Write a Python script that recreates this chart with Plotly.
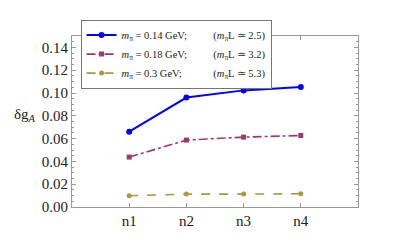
import plotly.graph_objects as go

categories = ["n1", "n2", "n3", "n4"]
x_pos = [1, 2, 3, 4]
dg_014 = [0.0661, 0.0960, 0.1023, 0.1053]
dg_018 = [0.0438, 0.0587, 0.0613, 0.0627]
dg_030 = [0.0099, 0.0113, 0.0113, 0.0116]
names = [
    "<i>m</i><sub>π</sub> = 0.14 GeV;          (<i>m</i><sub>π</sub>L ≃ 2.5)",
    "<i>m</i><sub>π</sub> = 0.18 GeV;          (<i>m</i><sub>π</sub>L ≃ 3.2)",
    "<i>m</i><sub>π</sub> = 0.3 GeV;            (<i>m</i><sub>π</sub>L ≃ 5.3)",
]

font = "Liberation Serif"
fig = go.Figure()
fig.add_trace(go.Scatter(x=x_pos, y=dg_014, name=names[0], mode="lines+markers",
                         line=dict(color="#0000FF", width=2),
                         marker=dict(symbol="circle", size=6, color="#0000FF")))
fig.add_trace(go.Scatter(x=x_pos, y=dg_018, name=names[1], mode="lines+markers",
                         line=dict(color="#9B3A6E", width=1.6, dash="dashdot"),
                         marker=dict(symbol="square", size=5, color="#9B3A6E")))
fig.add_trace(go.Scatter(x=x_pos, y=dg_030, name=names[2], mode="lines+markers",
                         line=dict(color="#A8983E", width=1.6, dash="dash"),
                         marker=dict(symbol="circle", size=5, color="#A8983E")))

axis_common = dict(showline=True, linecolor="#999999", linewidth=1, mirror="allticks",
                   ticks="inside", tickcolor="#999999", showgrid=False, zeroline=False,
                   automargin=False,
                   tickfont=dict(family=font, size=15, color="#222222"))
fig.update_xaxes(range=[0, 5], tickvals=x_pos, ticktext=categories, ticklen=4, **axis_common)
fig.update_yaxes(range=[0, 0.15], dtick=0.02, tickformat=".2f", ticklen=4,
                 minor=dict(dtick=0.005, ticks="inside", ticklen=2, tickcolor="#999999"),
                 **axis_common)

fig.add_annotation(text="δg<sub><i>A</i></sub>", xref="paper", yref="paper",
                   x=-0.21, y=0.54, xanchor="left", yanchor="middle", showarrow=False,
                   font=dict(family=font, size=15, color="#222222"))

fig.update_layout(
    width=395, height=248,
    margin=dict(l=64, r=45, t=22, b=49),
    paper_bgcolor="white", plot_bgcolor="white",
    font=dict(family=font, size=11, color="#222222"),
    legend=dict(x=0.03, y=1.096, xanchor="left", yanchor="top",
                bordercolor="#777777", borderwidth=1, bgcolor="white",
                font=dict(family=font, size=10.5), tracegroupgap=0,
                itemwidth=30),
    showlegend=True,
)
fig.write_html("out.html")
